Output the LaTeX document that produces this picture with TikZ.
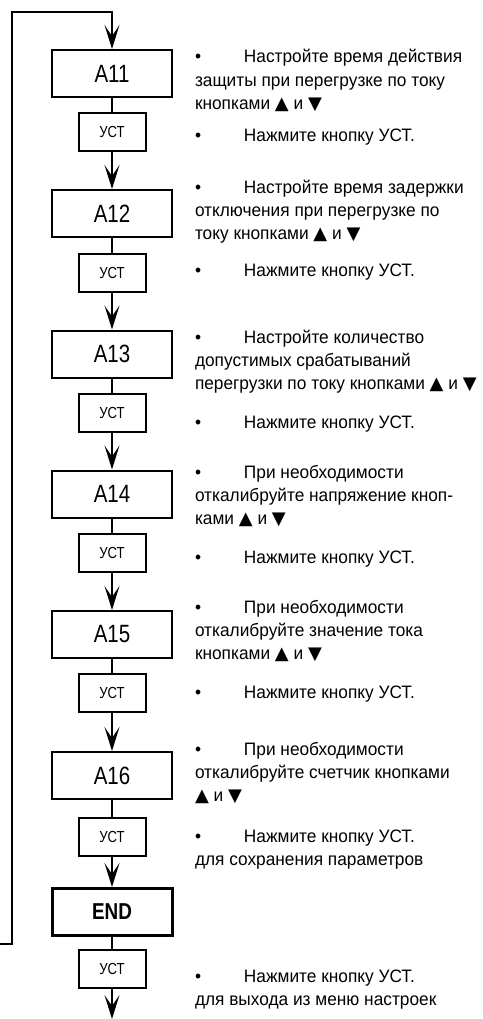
\documentclass[tikz,border=0pt]{standalone}
\usepackage{fontspec}
\setmainfont{Liberation Sans}
\newfontfamily\notefont[FakeStretch=0.96]{Liberation Sans}
\newfontfamily\boxfont[FakeStretch=0.82]{Liberation Sans}
\newfontfamily\symfont{DejaVu Sans}
\usetikzlibrary{arrows.meta,positioning}
\newcommand{\bul}{\makebox[49pt][l]{•}}
\newcommand{\keyup}{{\symfont ▲}}
\newcommand{\keydn}{{\symfont ▼}}

\begin{document}
\begin{tikzpicture}[%
    >={Stealth[length=24pt,width=15pt,inset=11pt]},
    x=1pt, y=-1pt,
    line width=2pt,
    on grid,
    bigbox/.style={draw, minimum width=120pt, minimum height=47pt, inner sep=0pt,
        font=\boxfont\fontsize{25}{25}\selectfont},
    ustbox/.style={draw, minimum width=67pt, minimum height=38pt, inner sep=0pt,
        font=\boxfont\fontsize{16}{16}\selectfont},
    note/.style={anchor=base west, align=left, inner sep=0pt,
        font=\notefont\fontsize{18}{23.3}\selectfont}
    ]
    \useasboundingbox (0,0) rectangle (482,1019);

    \node[bigbox] (a11) at (112,73.5) {A11};
    \node[ustbox] (u1) [below=58.5pt of a11] {УСТ};
    \node[bigbox] (a12) [below=81.5pt of u1] {A12};
    \node[ustbox] (u2) [below=59.5pt of a12] {УСТ};
    \node[bigbox] (a13) [below=81pt of u2] {A13};
    \node[ustbox] (u3) [below=58.5pt of a13] {УСТ};
    \node[bigbox] (a14) [below=81.5pt of u3] {A14};
    \node[ustbox] (u4) [below=59pt of a14] {УСТ};
    \node[bigbox] (a15) [below=81.5pt of u4] {A15};
    \node[ustbox] (u5) [below=58.5pt of a15] {УСТ};
    \node[bigbox] (a16) [below=82.5pt of u5] {A16};
    \node[ustbox] (u6) [below=61pt of a16] {УСТ};
    \node[bigbox, line width=3pt, font=\boxfont\bfseries\fontsize{23}{23}\selectfont] (aend) [below=75.5pt of u6] {END};
    \node[ustbox] (u7) [below=57pt of aend] {УСТ};
    \node[coordinate] (exit) [below=50pt of u7] {};
    \coordinate (loopin) at (0,944);
    \coordinate (looptop) at (12,12);

    \draw (a11) -- (u1);
    \draw[->] (u1) -- (a12);
    \draw (a12) -- (u2);
    \draw[->] (u2) -- (a13);
    \draw (a13) -- (u3);
    \draw[->] (u3) -- (a14);
    \draw (a14) -- (u4);
    \draw[->] (u4) -- (a15);
    \draw (a15) -- (u5);
    \draw[->] (u5) -- (a16);
    \draw (a16) -- (u6);
    \draw[->] (u6) -- (aend);
    \draw (aend) -- (u7);
    \draw[->] (u7) -- (exit);
    \draw[->] (loopin) -| (looptop) -| (a11);

    % notes (placed by the baseline of their last line)
    \node[note] (t1) at (194,109.6) {\bul Настройте время действия\\защиты при перегрузке по току\\кнопками \keyup{} и \keydn};
    \node[note] (n1) at (194,142) {\bul Нажмите кнопку УСТ.};
    \node[note] (t2) at (194,239.6) {\bul Настройте время задержки\\отключения при перегрузке по\\току кнопками \keyup{} и \keydn};
    \node[note] (n2) at (194,276) {\bul Нажмите кнопку УСТ.};
    \node[note] (t3) at (194,389.6) {\bul Настройте количество\\допустимых срабатываний\\перегрузки по току кнопками \keyup{} и \keydn};
    \node[note] (n3) at (194,428) {\bul Нажмите кнопку УСТ.};
    \node[note] (t4) at (194,524.6) {\bul При необходимости\\откалибруйте напряжение кноп-\\ками \keyup{} и \keydn};
    \node[note] (n4) at (194,563) {\bul Нажмите кнопку УСТ.};
    \node[note] (t5) at (194,659.6) {\bul При необходимости\\откалибруйте значение тока\\кнопками \keyup{} и \keydn};
    \node[note] (n5) at (194,698) {\bul Нажмите кнопку УСТ.};
    \node[note] (t6) at (194,801.6) {\bul При необходимости\\откалибруйте счетчик кнопками\\\keyup{} и \keydn};
    \node[note] (n6) at (194,865.3) {\bul Нажмите кнопку УСТ.\\для сохранения параметров};
    \node[note] (n7) at (194,1005.3) {\bul Нажмите кнопку УСТ.\\для выхода из меню настроек};
\end{tikzpicture}
\end{document}
